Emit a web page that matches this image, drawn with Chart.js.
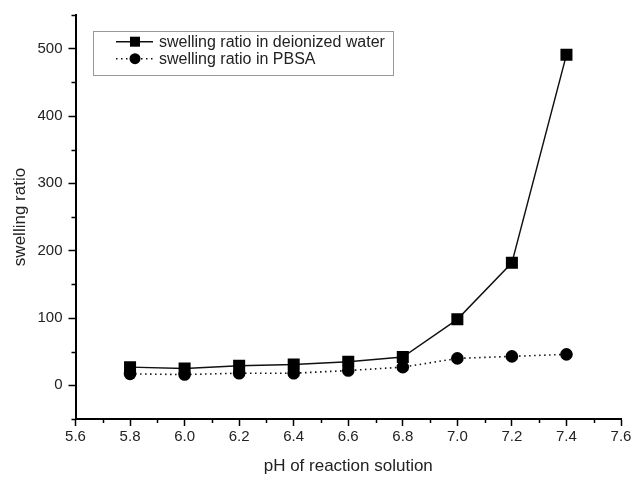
<!DOCTYPE html>
<html>
<head>
<meta charset="utf-8">
<script src="https://cdn.jsdelivr.net/npm/chart.js@4/dist/chart.umd.min.js"></script>
<style>
  html, body { margin: 0; padding: 0; background: #fff; }
  #wrap { width: 634px; height: 478px; }
</style>
</head>
<body>
<div id="wrap"><canvas id="c" width="634" height="478"></canvas></div>
<script>
const phValues = [5.8, 6.0, 6.2, 6.4, 6.6, 6.8, 7.0, 7.2, 7.4];
const deionizedWater = [27, 25, 29, 31, 35, 42, 98, 182, 491];
const pbsa = [17, 16, 18, 18, 22, 27, 40, 43, 46];
const yTickValues = [0, 100, 200, 300, 400, 500];
const yMinorValues = [-50, 50, 150, 250, 350, 450, 550];
const xMinorValues = [5.7, 5.9, 6.1, 6.3, 6.5, 6.7, 6.9, 7.1, 7.3, 7.5];
const seriesLabels = ['swelling ratio in deionized water', 'swelling ratio in PBSA'];
const xTitle = 'pH of reaction solution';
const yTitle = 'swelling ratio';

const FONT = '"Liberation Sans", Arial, sans-serif';
const TXT = '#222';

const toXY = (xs, ys) => xs.map((x, i) => ({ x: x, y: ys[i] }));

const extras = {
  id: 'extras',
  afterDraw(chart) {
    const ctx = chart.ctx;
    const xs = chart.scales.x, ys = chart.scales.y;
    const area = chart.chartArea;
    ctx.save();
    ctx.strokeStyle = '#000';
    ctx.lineWidth = 1.5;
    // minor ticks
    yMinorValues.forEach(v => {
      const py = Math.round(ys.getPixelForValue(v)) + 0.5;
      ctx.beginPath();
      ctx.moveTo(area.left - 4, py);
      ctx.lineTo(area.left, py);
      ctx.stroke();
    });
    xMinorValues.forEach(v => {
      const px = Math.round(xs.getPixelForValue(v)) + 0.5;
      ctx.beginPath();
      ctx.moveTo(px, area.bottom);
      ctx.lineTo(px, area.bottom + 4);
      ctx.stroke();
    });
    // legend box
    const bx = 93.5, by = 31.5, bw = 300, bh = 44;
    ctx.fillStyle = '#fff';
    ctx.fillRect(bx, by, bw, bh);
    ctx.strokeStyle = '#999';
    ctx.lineWidth = 1;
    ctx.strokeRect(bx, by, bw, bh);
    const rows = [41.7, 58.7];
    // row 1: solid line + square
    ctx.strokeStyle = '#111';
    ctx.lineWidth = 1.5;
    ctx.setLineDash([]);
    ctx.beginPath();
    ctx.moveTo(116, rows[0]);
    ctx.lineTo(153, rows[0]);
    ctx.stroke();
    ctx.fillStyle = '#000';
    ctx.fillRect(135 - 5, rows[0] - 5, 10, 10);
    // row 2: dotted line + circle
    ctx.setLineDash([1.5, 3.5]);
    ctx.lineWidth = 1.6;
    ctx.beginPath();
    ctx.moveTo(116, rows[1]);
    ctx.lineTo(153, rows[1]);
    ctx.stroke();
    ctx.setLineDash([]);
    ctx.beginPath();
    ctx.arc(135, rows[1], 5.5, 0, Math.PI * 2);
    ctx.fill();
    // texts
    ctx.fillStyle = TXT;
    ctx.font = '16px ' + FONT;
    ctx.textBaseline = 'middle';
    ctx.textAlign = 'left';
    ctx.fillText(seriesLabels[0], 159, rows[0] + 0.5);
    ctx.fillText(seriesLabels[1], 159, rows[1] + 0.5);
    ctx.restore();
  }
};

new Chart(document.getElementById('c'), {
  type: 'line',
  data: {
    datasets: [
      {
        label: seriesLabels[0],
        data: toXY(phValues, deionizedWater),
        borderColor: '#111',
        backgroundColor: '#000',
        borderWidth: 1.4,
        pointStyle: 'rect',
        pointRadius: 8.5,
        pointBorderWidth: 0,
        pointBackgroundColor: '#000',
        tension: 0
      },
      {
        label: seriesLabels[1],
        data: toXY(phValues, pbsa),
        borderColor: '#111',
        backgroundColor: '#000',
        borderWidth: 1.6,
        borderDash: [1.5, 3.5],
        pointStyle: 'circle',
        pointRadius: 6.3,
        pointBorderWidth: 0,
        pointBackgroundColor: '#000',
        tension: 0
      }
    ]
  },
  options: {
    responsive: false,
    animation: false,
    devicePixelRatio: 1,
    layout: { padding: { top: 14, right: 13, left: 0, bottom: 0 } },
    plugins: { legend: { display: false }, tooltip: { enabled: false } },
    scales: {
      x: {
        type: 'linear',
        min: 5.6,
        max: 7.6,
        ticks: {
          stepSize: 0.2,
          color: TXT,
          font: { family: FONT, size: 15 },
          padding: 2,
          maxRotation: 0,
          callback: v => Number(v).toFixed(1)
        },
        grid: { display: true, drawOnChartArea: false, drawTicks: true, tickLength: 7, tickColor: '#000', tickWidth: 1.5 },
        border: { display: true, color: '#000', width: 2 },
        title: { display: true, text: xTitle, color: TXT, font: { family: FONT, size: 17 }, padding: { top: 0, bottom: 1 } },
        afterFit: s => { s.height = 59; }
      },
      y: {
        type: 'linear',
        min: -50,
        max: 550,
        afterBuildTicks: s => { s.ticks = yTickValues.map(v => ({ value: v })); },
        ticks: {
          color: TXT,
          font: { family: FONT, size: 15 },
          padding: 6
        },
        grid: { display: true, drawOnChartArea: false, drawTicks: true, tickLength: 7, tickColor: '#000', tickWidth: 1.5 },
        border: { display: true, color: '#000', width: 2 },
        title: { display: true, text: yTitle, color: TXT, font: { family: FONT, size: 17 }, padding: { top: 10, bottom: 0 } },
        afterFit: s => { s.width = 75.5; }
      }
    }
  },
  plugins: [extras]
});
</script>
</body>
</html>
